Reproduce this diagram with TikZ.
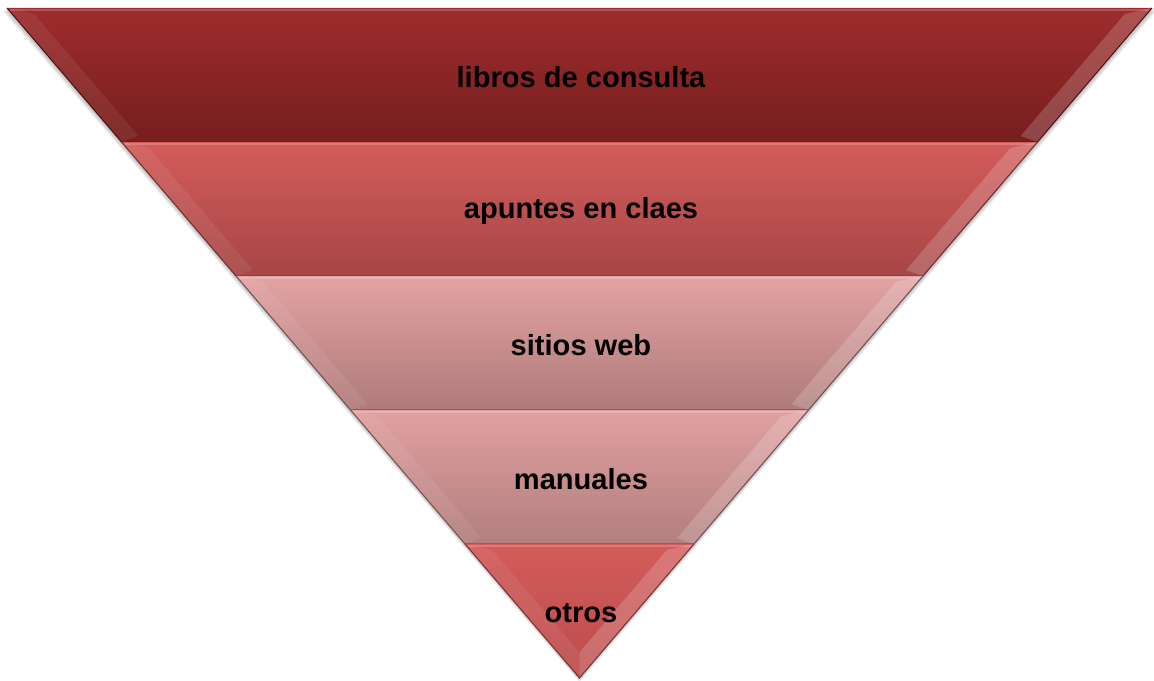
\documentclass[tikz,border=0pt]{standalone}
\usepackage{fontspec}
\setmainfont{Liberation Sans}
\definecolor{bandAtop}{HTML}{9E2C2C}
\definecolor{bandAbot}{HTML}{761E1E}
\definecolor{bandBtop}{HTML}{D35C5A}
\definecolor{bandBbot}{HTML}{A64646}
\definecolor{bandCtop}{HTML}{E2A3A3}
\definecolor{bandCbot}{HTML}{B07A7A}
\definecolor{bandDtop}{HTML}{E0A0A0}
\definecolor{bandDbot}{HTML}{B37E7E}
\definecolor{bandEtop}{HTML}{D25C5A}
\definecolor{bandEbot}{HTML}{BC4C4C}
\tikzset{
  bandtext/.style={font=\bfseries\fontsize{21.8}{26}\selectfont,text=black},
  bevelleft/.style={fill=white,opacity=0.07},
  bevelright/.style={fill=white,opacity=0.18},
}
\begin{document}
\begin{tikzpicture}[x=0.75pt,y=-0.75pt]
  \useasboundingbox (0,0) rectangle (1154,681);
  % soft shadow under the whole funnel
  \foreach \s in {1,2,3,4}
    \fill[black,opacity=0.06] (5.5-\s*0.5,8+\s) -- (1153.5+\s*0.5,8+\s) -- (579.5,678+\s) -- cycle;
  % the five bands
  \foreach \i/\ca/\cb/\lbl in {0/bandAtop/bandAbot/libros de consulta,
      1/bandBtop/bandBbot/apuntes en claes, 2/bandCtop/bandCbot/sitios web,
      3/bandDtop/bandDbot/manuales, 4/bandEtop/bandEbot/otros}{
    \pgfmathsetmacro\yt{8+134*\i}
    \pgfmathsetmacro\yb{\yt+134}
    \pgfmathsetmacro\ti{\yt+6}
    \pgfmathsetmacro\bi{min(\yb-6,678-1.17*22)}
    \pgfmathsetmacro\wt{0.85448*(678-\yt)}
    \pgfmathsetmacro\wb{0.85448*(678-\yb)}
    \pgfmathsetmacro\wti{0.85448*(678-\ti)-22}
    \pgfmathsetmacro\wbi{max(0.85448*(678-\bi)-22,0)}
    \shade[top color=\ca,bottom color=\cb]
      (579.5-\wt,\yt) -- (579.5+\wt,\yt) -- (579.5+\wb,\yb) -- (579.5-\wb,\yb) -- cycle;
    \fill[bevelleft] (579.5-\wt,\yt) -- (579.5-\wti,\ti) -- (579.5-\wbi,\bi) -- (579.5-\wb,\yb) -- cycle;
    \fill[bevelright] (579.5+\wt,\yt) -- (579.5+\wti,\ti) -- (579.5+\wbi,\bi) -- (579.5+\wb,\yb) -- cycle;
    \draw[white,opacity=0.2,line width=1.2] (579.5-\wt+3,\yt+2) -- (579.5+\wt-3,\yt+2);
    \draw[\cb!65!black,line width=0.8]
      (579.5-\wt,\yt) -- (579.5-\wb,\yb) -- (579.5+\wb,\yb) -- (579.5+\wt,\yt);
    \node[bandtext] (band\i) at (581,\yt+69) {\lbl};
  }
\end{tikzpicture}
\end{document}
